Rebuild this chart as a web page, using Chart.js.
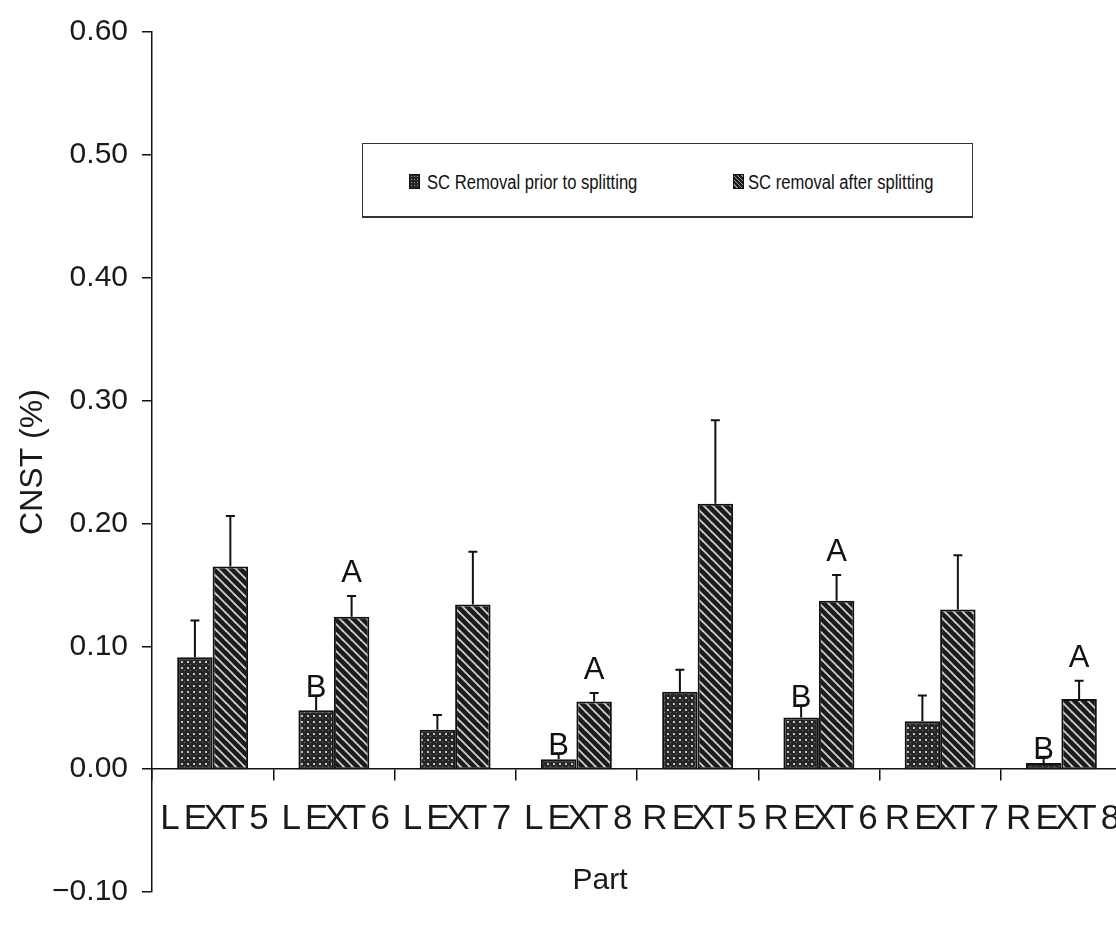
<!DOCTYPE html>
<html><head><meta charset="utf-8">
<script src="https://cdn.jsdelivr.net/npm/chart.js@4.4.1/dist/chart.umd.min.js"></script>
<style>
html,body{margin:0;padding:0;background:#fff;overflow:hidden;width:1116px;height:926px;}
#wrap{position:relative;width:1116px;height:926px;overflow:hidden;background:#fff;}
#c{position:absolute;left:0;top:0;}
#legend{position:absolute;left:362px;top:143px;width:609px;height:72px;border:1.5px solid #333;border-bottom-width:2px;background:#fff;font-family:"Liberation Sans",Arial,sans-serif;font-size:20px;color:#111;}
.sw{position:absolute;top:30px;width:9px;height:13px;border:1px solid #111;}
.sw1{background:#262626 radial-gradient(circle,#999 0.6px,transparent 0.9px) 0 0/3px 3px;}
.sw2{background:repeating-linear-gradient(45deg,#1a1a1a 0 2px,#999 2px 3px);}
.lt{position:absolute;top:28px;line-height:20px;white-space:nowrap;transform:scaleX(0.83);transform-origin:0 50%;}
</style>
</head><body>
<div id="wrap">
<canvas id="c" width="1122" height="926"></canvas>
<div id="legend">
  <span class="sw sw1" style="left:46px"></span><span class="lt" id="lg1" style="left:64px"></span>
  <span class="sw sw2" style="left:370px"></span><span class="lt" id="lg2" style="left:385px"></span>
</div>
</div>
<script>
// ---- data ----
const categories = ['L EXT 5','L EXT 6','L EXT 7','L EXT 8','R EXT 5','R EXT 6','R EXT 7','R EXT 8'];
const seriesNames = ['SC Removal prior to splitting','SC removal after splitting'];
const priorValues = [0.091, 0.048, 0.032, 0.008, 0.063, 0.042, 0.039, 0.005];
const priorErrors = [0.030, 0.012, 0.012, 0.005, 0.018, 0.010, 0.021, 0.005];
const afterValues = [0.165, 0.124, 0.134, 0.055, 0.216, 0.137, 0.130, 0.057];
const afterErrors = [0.041, 0.017, 0.043, 0.007, 0.068, 0.021, 0.044, 0.015];
const priorLetters = ['', 'B', '', 'B', '', 'B', '', 'B'];
const afterLetters = ['', 'A', '', 'A', '', 'A', '', 'A'];
const yTickLabels = ['\u22120.10','0.00','0.10','0.20','0.30','0.40','0.50','0.60'];
const yTitle = 'CNST (%)';
const xTitle = 'Part';

document.getElementById('lg1').textContent = seriesNames[0];
document.getElementById('lg2').textContent = seriesNames[1];

// ---- patterns ----
function dotPattern(){
  const c=document.createElement('canvas'); c.width=6; c.height=6;
  const g=c.getContext('2d');
  g.fillStyle='#272727'; g.fillRect(0,0,6,6);
  g.fillStyle='#c4c4c4'; g.fillRect(1,1,2,2);
  g.fillStyle='#7a7a7a'; g.fillRect(4,4,1,1);
  return g.createPattern(c,'repeat');
}
function hatchPattern(){
  const s=9;
  const c=document.createElement('canvas'); c.width=s; c.height=s;
  const g=c.getContext('2d');
  g.fillStyle='#1c1c1c'; g.fillRect(0,0,s,s);
  g.strokeStyle='#cfcfcf'; g.lineWidth=1.8;
  for(let k=-1;k<=1;k++){ g.beginPath(); g.moveTo(k*s-1,-1); g.lineTo(k*s+s+1,s+1); g.stroke(); }
  return g.createPattern(c,'repeat');
}

const FONT='"Liberation Sans", Arial, sans-serif';
const X_LETTER_SPACING='-3.5px';
const X_WORD_SPACING='1.5px';
const seriesStyle=[{letterGap:-2},{letterGap:14}];

// category scale whose tick labels are drawn with tight letter spacing
class TightCategoryScale extends Chart.CategoryScale {
  drawLabels(area){
    const c=this.ctx; c.save();
    if ('letterSpacing' in c) c.letterSpacing=X_LETTER_SPACING;
    if ('wordSpacing' in c) c.wordSpacing=X_WORD_SPACING;
    super.drawLabels(area);
    c.restore();
  }
}
TightCategoryScale.id='tightCategory';
TightCategoryScale.defaults=Chart.CategoryScale.defaults;
Chart.register(TightCategoryScale);

const annotate={
  id:'annotate',
  afterDatasetsDraw(chart){
    const ctx=chart.ctx, y=chart.scales.y;
    chart.data.datasets.forEach((ds,di)=>{
      const meta=chart.getDatasetMeta(di);
      meta.data.forEach((bar,i)=>{
        const v=ds.data[i], e=ds.errors[i];
        const by=y.getPixelForValue(v), ty=y.getPixelForValue(v+e);
        ctx.save();
        ctx.strokeStyle='#111'; ctx.lineWidth=2;
        ctx.beginPath();
        ctx.moveTo(bar.x,by); ctx.lineTo(bar.x,ty);
        ctx.moveTo(bar.x-4.5,ty); ctx.lineTo(bar.x+4.5,ty);
        ctx.stroke();
        const L=ds.letters[i];
        if(L){
          ctx.font='31px '+FONT; ctx.fillStyle='#111';
          ctx.textAlign='center'; ctx.textBaseline='alphabetic';
          ctx.fillText(L, bar.x, ty-seriesStyle[di].letterGap);
        }
        ctx.restore();
      });
    });
  },
  afterDraw(chart){
    const ctx=chart.ctx, a=chart.chartArea;
    ctx.save();
    ctx.font='30px '+FONT; ctx.fillStyle='#1a1a1a';
    ctx.textAlign='center'; ctx.textBaseline='middle';
    ctx.fillText(xTitle,(a.left+a.right)/2-37,a.bottom-11);
    ctx.restore();
  }
};

new Chart(document.getElementById('c').getContext('2d'),{
  type:'bar',
  data:{
    labels:categories,
    datasets:[
      {label:seriesNames[0],data:priorValues,errors:priorErrors,letters:priorLetters,
       backgroundColor:dotPattern(),borderColor:'#111',borderWidth:2,borderSkipped:false},
      {label:seriesNames[1],data:afterValues,errors:afterErrors,letters:afterLetters,
       backgroundColor:hatchPattern(),borderColor:'#111',borderWidth:2,borderSkipped:false}
    ]
  },
  options:{
    responsive:false, animation:false, devicePixelRatio:1,
    layout:{padding:{left:0,right:0,top:22,bottom:34}},
    datasets:{bar:{categoryPercentage:0.585,barPercentage:1.0}},
    plugins:{legend:{display:false},tooltip:{enabled:false}},
    scales:{
      x:{
        type:'tightCategory',
        position:{y:0},
        afterFit(s){s.paddingLeft=0;s.paddingRight=0;},
        grid:{display:true,drawOnChartArea:false,drawTicks:true,tickLength:11,color:'#111',lineWidth:1.5,offset:true},
        border:{display:true,color:'#111',width:1.5},
        ticks:{font:{family:FONT,size:35},color:'#1a1a1a',padding:18,maxRotation:0,autoSkip:false},
        title:{display:false,text:xTitle}
      },
      y:{
        min:-0.1,max:0.6,
        afterFit(s){s.width=152;},
        grid:{display:true,drawOnChartArea:false,drawTicks:true,tickLength:10,color:'#111',lineWidth:1.5},
        border:{display:true,color:'#111',width:1.5},
        ticks:{stepSize:0.1,autoSkip:false,font:{family:FONT,size:30},color:'#1a1a1a',padding:14,
          callback:(v,i)=>yTickLabels[i]},
        title:{display:true,text:yTitle,font:{family:FONT,size:32},color:'#1a1a1a',padding:{top:14,bottom:0}}
      }
    }
  },
  plugins:[annotate]
});
</script>
</body></html>
